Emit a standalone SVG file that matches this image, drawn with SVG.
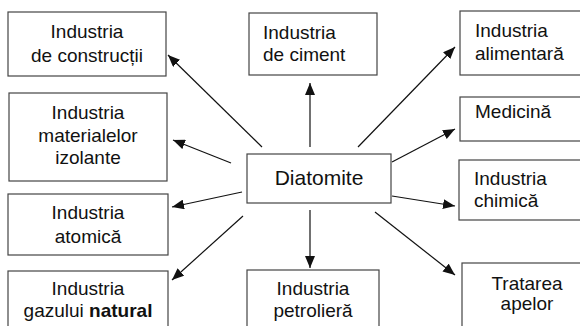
<svg xmlns="http://www.w3.org/2000/svg" width="580" height="326" viewBox="0 0 580 326">
<style>
.box{fill:#fff;stroke:#444;stroke-width:1.2}
text{font-family:"Liberation Sans",Arial,sans-serif;font-size:19px;fill:#111}
.c{text-anchor:middle}
.con line{stroke:#111;stroke-width:1.2;marker-end:url(#ah)}
</style>
<defs>
<marker id="ah" markerUnits="userSpaceOnUse" markerWidth="12" markerHeight="10" refX="12" refY="5" orient="auto">
<path d="M0,0 L12,5 L0,10 z" fill="#111"/>
</marker>
</defs>
<rect width="580" height="326" fill="#fff"/>
<g id="n-constructii"><rect class="box" x="8" y="12" width="158" height="64"/><text class="c" x="87" y="38">Industria</text><text class="c" x="87" y="62">de construcții</text></g>
<g id="n-ciment"><rect class="box" x="249" y="13" width="128" height="62"/><text x="263" y="39">Industria</text><text x="263" y="61">de ciment</text></g>
<g id="n-alimentara"><rect class="box" x="460" y="11" width="130" height="64"/><text x="475" y="37">Industria</text><text x="475" y="60">alimentară</text></g>
<g id="n-medicina"><rect class="box" x="460" y="97" width="130" height="44"/><text x="475" y="118">Medicină</text></g>
<g id="n-chimica"><rect class="box" x="459" y="160" width="131" height="60"/><text x="474" y="185">Industria</text><text x="474" y="207">chimică</text></g>
<g id="n-materialelor"><rect class="box" x="9" y="93" width="158" height="88"/><text class="c" x="88" y="119">Industria</text><text class="c" x="88" y="142">materialelor</text><text class="c" x="88" y="164">izolante</text></g>
<g id="n-atomica"><rect class="box" x="8" y="194" width="160" height="61"/><text class="c" x="88" y="219">Industria</text><text class="c" x="88" y="243">atomică</text></g>
<g id="n-gazului"><rect class="box" x="8" y="271" width="160" height="70"/><text class="c" x="88" y="295">Industria</text><text class="c" x="88" y="317">gazului <tspan font-weight="bold">natural</tspan></text></g>
<g id="n-petroliera"><rect class="box" x="247" y="270" width="132" height="70"/><text class="c" x="313" y="295">Industria</text><text class="c" x="313" y="317">petrolieră</text></g>
<g id="n-tratarea"><rect class="box" x="462" y="263" width="130" height="80"/><text class="c" x="527" y="290">Tratarea</text><text class="c" x="527" y="310">apelor</text></g>
<g id="n-diatomite"><rect class="box" x="247" y="154" width="144" height="49"/><text class="c" x="319" y="185" style="font-size:21px">Diatomite</text></g>
<g class="con" id="connectors">
<line x1="262" y1="147" x2="168" y2="55"/>
<line x1="310" y1="147" x2="310" y2="83"/>
<line x1="358" y1="147" x2="455" y2="47"/>
<line x1="392" y1="162" x2="455" y2="129"/>
<line x1="392" y1="196" x2="455" y2="206"/>
<line x1="231" y1="163" x2="173" y2="140"/>
<line x1="242" y1="192" x2="172" y2="207"/>
<line x1="243" y1="216" x2="172" y2="280"/>
<line x1="310" y1="210" x2="310" y2="268"/>
<line x1="375" y1="212" x2="455" y2="275"/>
</g>
</svg>
